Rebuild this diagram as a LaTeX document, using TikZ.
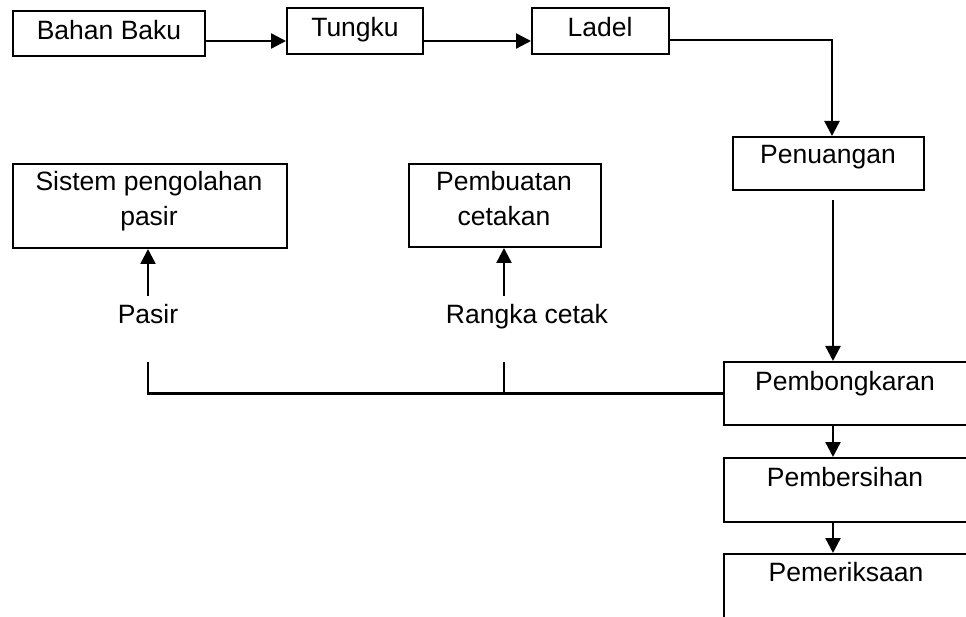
\documentclass[tikz,border=0pt]{standalone}
\usepackage{fontspec}
\setmainfont{Liberation Sans}
\usetikzlibrary{arrows.meta}
\begin{document}
\begin{tikzpicture}[x=1pt,y=-1pt,
  box/.style={draw, line width=2pt, inner sep=0pt, anchor=north west},
  txt/.style={inner sep=0pt, font=\fontsize{26.5}{35}\selectfont, align=center},
  conn/.style={line width=2.4pt},
  arr/.style={conn, -{Triangle[length=15pt,width=15pt]}}]
\useasboundingbox (0,0) rectangle (966,617);
\clip (0,0) rectangle (966,617);
% boxes
\node[box, minimum width=192pt, minimum height=45pt] (bahan) at (12,10) {};
\node[box, minimum width=136pt, minimum height=46pt] (tungku) at (286,7) {};
\node[box, minimum width=137pt, minimum height=46pt] (ladel) at (531,7) {};
\node[box, minimum width=191pt, minimum height=53pt] (penuangan) at (732,136) {};
\node[box, minimum width=274pt, minimum height=84pt] (sistem) at (12,163) {};
\node[box, minimum width=192pt, minimum height=83pt] (pembuatan) at (408,163) {};
\node[box, minimum width=245pt, minimum height=63pt] (pembongkaran) at (723,361) {};
\node[box, minimum width=245pt, minimum height=64pt] (pembersihan) at (723,457) {};
\node[box, minimum width=245pt, minimum height=90pt] (pemeriksaan) at (723,553) {};
% texts
\node[txt, anchor=base] (bahant) at (109,40) {Bahan Baku};
\node[txt, anchor=base] (tungkut) at (355,37) {Tungku};
\node[txt, anchor=base] (ladelt) at (600,37) {Ladel};
\node[txt, anchor=base] (penuangant) at (828,164) {Penuangan};
\node[txt, anchor=base] (sistemt) at (149,226) {Sistem pengolahan\\pasir};
\node[txt, anchor=base] (pembuatant) at (504,226) {Pembuatan\\cetakan};
\node[txt, anchor=base] (pembongkarant) at (845,390) {Pembongkaran};
\node[txt, anchor=base] (pembersihant) at (845,486) {Pembersihan};
\node[txt, anchor=base] (pemeriksaant) at (846,581) {Pemeriksaan};
\node[txt, anchor=base] (pasir) at (148,324) {Pasir};
\node[txt, anchor=base] (rangka) at (527,324) {Rangka cetak};
% helper coordinates
\coordinate (rowA) at (0,41);
\coordinate (turn) at (832,40);
\coordinate (colC) at (833,0);
\coordinate (tailP) at (148,296);
\coordinate (tailR) at (504,296);
\coordinate (stubP) at (148,362);
\coordinate (stubR) at (504,362);
% connectors
\draw[arr] (bahan.east |- rowA) -- (tungku.west |- rowA);
\draw[arr] (tungku.east |- rowA) -- (ladel.west |- rowA);
\draw[arr] (ladel.east |- turn) -- (turn) -- (turn |- penuangan.north);
\draw[arr] ([yshift=-9pt]penuangan.south -| colC) -- (colC |- pembongkaran.north);
\draw[arr] (colC |- pembongkaran.south) -- (colC |- pembersihan.north);
\draw[arr] (colC |- pembersihan.south) -- (colC |- pemeriksaan.north);
\draw[arr] (tailP) -- (sistem.south -| tailP);
\draw[arr] (tailR) -- (pembuatan.south -| tailR);
\draw[conn] (stubP) |- (pembongkaran.west);
\draw[conn] (stubR) -- (stubR |- pembongkaran.west);
\end{tikzpicture}
\end{document}
